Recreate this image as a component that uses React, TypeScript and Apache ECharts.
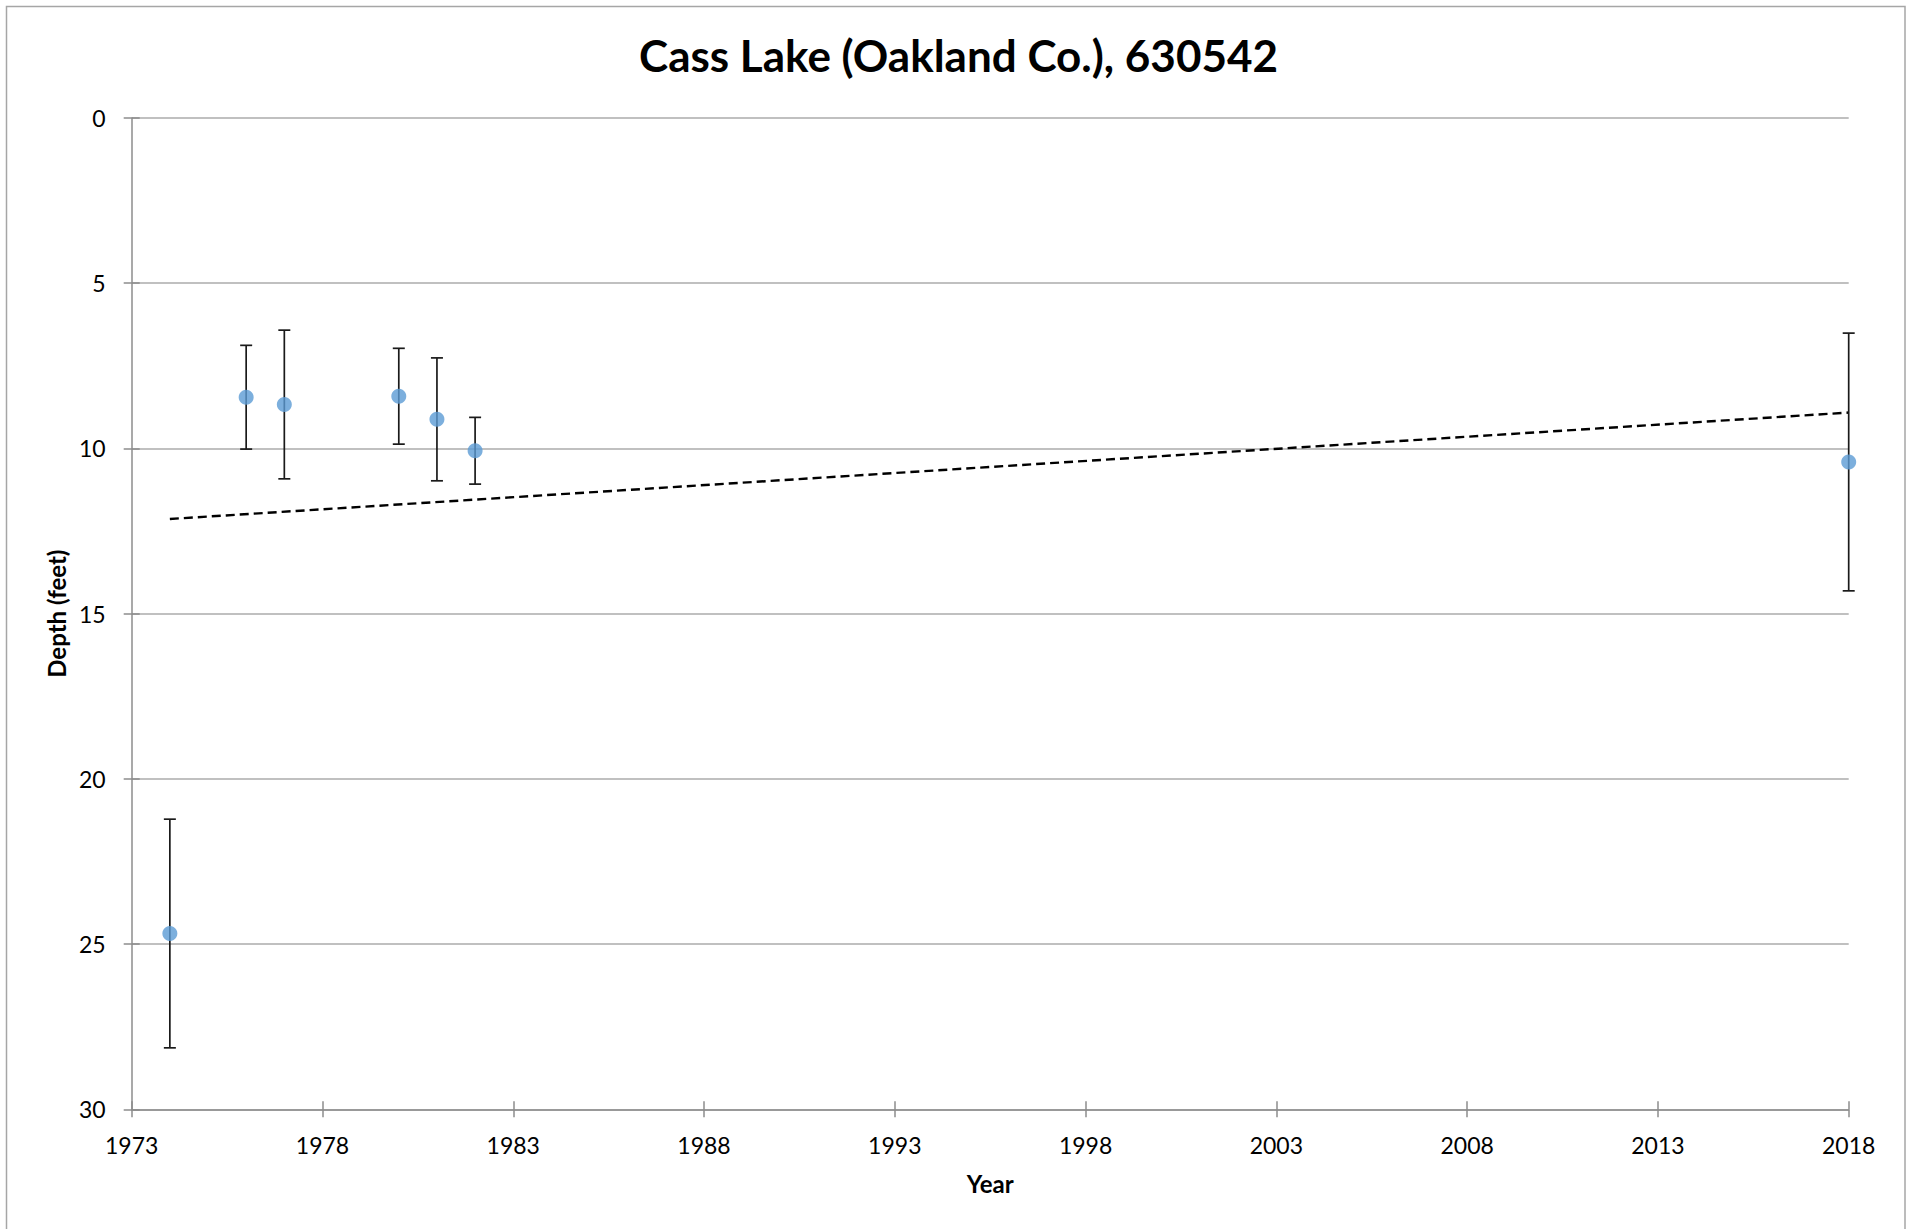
import React, { useEffect, useRef } from "react";
import * as echarts from "echarts";

const chartTitle = "Cass Lake (Oakland Co.), 630542";
const xAxisName = "Year";
const yAxisName = "Depth (feet)";
const years = [1974, 1976, 1977, 1980, 1981, 1982, 2018];
const depths = [24.68, 8.45, 8.67, 8.42, 9.12, 10.07, 10.41];
const stdDevs = [3.46, 1.57, 2.25, 1.45, 1.86, 1.01, 3.9];
const xMin = 1973;
const xMax = 2018;
const xStep = 5;
const yMin = 0;
const yMax = 30;
const yStep = 5;

function linearFit(xs: number[], ys: number[]) {
  const n = xs.length;
  const mx = xs.reduce((a, b) => a + b, 0) / n;
  const my = ys.reduce((a, b) => a + b, 0) / n;
  let sxy = 0;
  let sxx = 0;
  for (let i = 0; i < n; i++) {
    sxy += (xs[i] - mx) * (ys[i] - my);
    sxx += (xs[i] - mx) * (xs[i] - mx);
  }
  const slope = sxy / sxx;
  return (x: number) => my + slope * (x - mx);
}

const FONT = "Lato";

export default function App() {
  const ref = useRef<HTMLDivElement>(null);

  useEffect(() => {
    if (!ref.current) return;
    const chart = echarts.init(ref.current, undefined, { renderer: "svg" });
    const fit = linearFit(years, depths);
    const x0 = years[0];
    const x1 = years[years.length - 1];
    const trend = [
      [x0, fit(x0)],
      [x1, fit(x1)],
    ];
    const points = years.map((y, i) => [y, depths[i]]);
    const bars = years.map((y, i) => [y, depths[i] - stdDevs[i], depths[i] + stdDevs[i]]);

    const axisLineColor = "#8c8c8c";
    const labelStyle = { fontFamily: FONT, fontSize: 23, color: "#000" };
    const gridBox = { left: 131.7, right: 68.3, top: 118, bottom: 119.7, containLabel: false };

    chart.setOption({
      animation: false,
      backgroundColor: "#fff",
      title: {
        text: chartTitle,
        left: "center",
        top: 28,
        textStyle: { fontFamily: FONT, fontWeight: "bold", fontSize: 44, color: "#000" },
      },
      graphic: [
        {
          type: "rect",
          shape: { x: 6.5, y: 6.5, width: 1898.5, height: 1240 },
          style: { fill: "none", stroke: "#a6a6a6", lineWidth: 1.5 },
          silent: true,
        },
      ],
      grid: [gridBox, { ...gridBox }],
      xAxis: [
        {
          type: "value",
          gridIndex: 0,
          position: "bottom",
          min: xMin,
          max: xMax,
          interval: xStep,
          name: xAxisName,
          nameLocation: "middle",
          nameGap: 62,
          nameTextStyle: { fontFamily: FONT, fontWeight: "bold", fontSize: 24, color: "#000" },
          axisLine: { show: true, onZero: false, lineStyle: { color: axisLineColor, width: 1.5 } },
          axisTick: { show: true, inside: false, length: 8, lineStyle: { color: axisLineColor, width: 1.5 } },
          axisLabel: { ...labelStyle, margin: 24, formatter: (v: number) => String(v) },
          splitLine: { show: false },
        },
        {
          type: "value",
          gridIndex: 1,
          position: "bottom",
          min: xMin,
          max: xMax,
          interval: xStep,
          axisLine: { show: false, onZero: false },
          axisTick: { show: true, inside: true, length: 8, lineStyle: { color: axisLineColor, width: 1.5 } },
          axisLabel: { show: false },
          splitLine: { show: false },
        },
      ],
      yAxis: [
        {
          type: "value",
          gridIndex: 0,
          position: "left",
          inverse: true,
          min: yMin,
          max: yMax,
          interval: yStep,
          name: yAxisName,
          nameLocation: "middle",
          nameRotate: 90,
          nameGap: 63,
          nameTextStyle: { fontFamily: FONT, fontWeight: "bold", fontSize: 24, color: "#000" },
          axisLine: { show: true, onZero: false, lineStyle: { color: axisLineColor, width: 1.5 } },
          axisTick: { show: true, inside: false, length: 8, lineStyle: { color: axisLineColor, width: 1.5 } },
          axisLabel: { ...labelStyle, margin: 26 },
          splitLine: { show: true, lineStyle: { color: "#c0c0c0", width: 2.2 } },
        },
        {
          type: "value",
          gridIndex: 1,
          position: "left",
          inverse: true,
          min: yMin,
          max: yMax,
          interval: yStep,
          axisLine: { show: false, onZero: false },
          axisTick: { show: true, inside: true, length: 8, lineStyle: { color: axisLineColor, width: 1.5 } },
          axisLabel: { show: false },
          splitLine: { show: false },
        },
      ],
      series: [
        {
          type: "line",
          name: "trend",
          data: trend,
          xAxisIndex: 0,
          yAxisIndex: 0,
          symbol: "none",
          lineStyle: { color: "#000", width: 2.4, type: [9, 5] },
          z: 2,
          silent: true,
        },
        {
          type: "custom",
          name: "error",
          xAxisIndex: 0,
          yAxisIndex: 0,
          data: bars,
          encode: { x: 0, y: [1, 2] },
          z: 3,
          clip: false,
          renderItem: (params: any, api: any) => {
            const x = api.value(0);
            const lo = api.coord([x, api.value(1)]);
            const hi = api.coord([x, api.value(2)]);
            const w = 6;
            const style = { stroke: "#1a1a1a", lineWidth: 1.7 };
            return {
              type: "group",
              children: [
                { type: "line", shape: { x1: lo[0], y1: lo[1], x2: hi[0], y2: hi[1] }, style },
                { type: "line", shape: { x1: lo[0] - w, y1: lo[1], x2: lo[0] + w, y2: lo[1] }, style },
                { type: "line", shape: { x1: hi[0] - w, y1: hi[1], x2: hi[0] + w, y2: hi[1] }, style },
              ],
            };
          },
        },
        {
          type: "scatter",
          name: "depth",
          data: points,
          xAxisIndex: 0,
          yAxisIndex: 0,
          symbol: "circle",
          symbolSize: 15,
          itemStyle: { color: "#5b9bd5" },
          z: 4,
        },
      ],
    });
    return () => chart.dispose();
  }, []);

  return (
    <div
      ref={ref}
      style={{ position: "fixed", left: 0, top: 0, width: 1917, height: 1229, background: "#fff" }}
    />
  );
}
